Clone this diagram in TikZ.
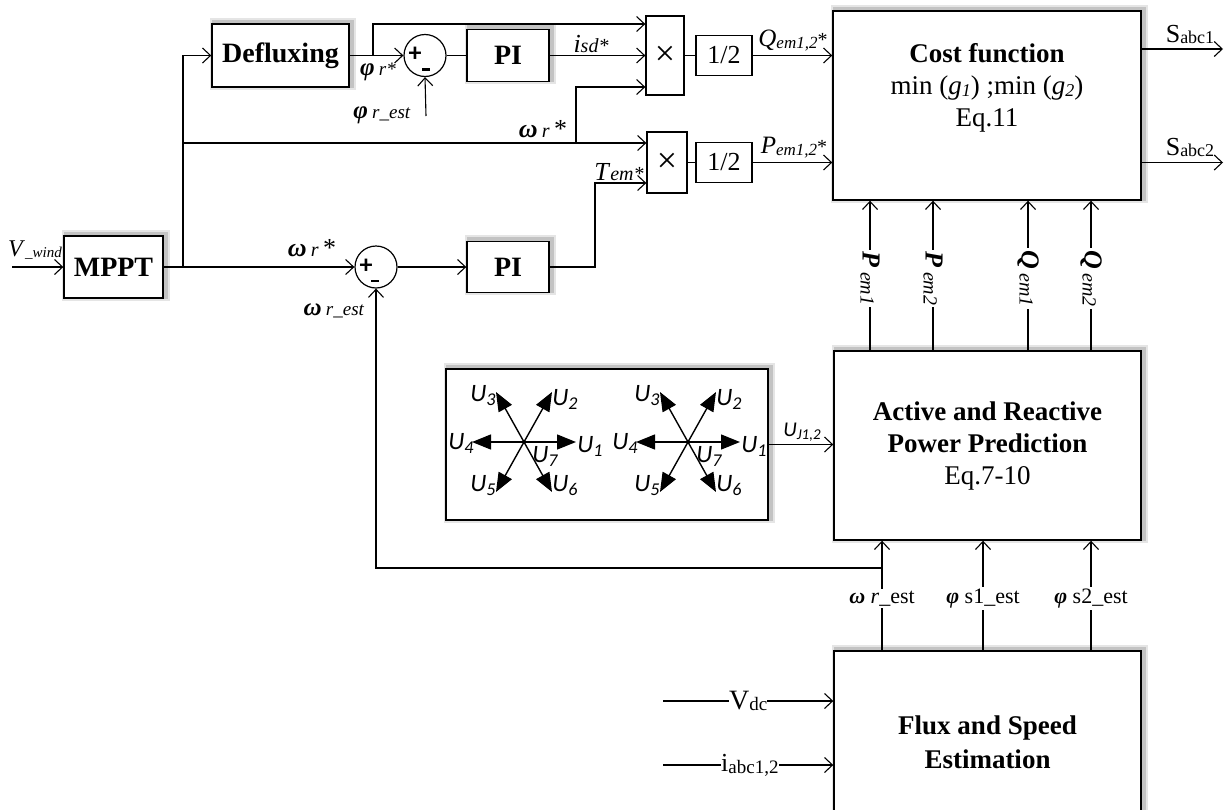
\documentclass[tikz,border=0pt]{standalone}
\usepackage{fontspec}
\setmainfont{Liberation Serif}
\newfontfamily\calib{Carlito}
\usetikzlibrary{arrows.meta,calc}
\newcommand{\om}{\textbf{\textit{ω}}}
\newcommand{\ph}{\textbf{\textit{φ}}}
\newcommand{\fs}[1]{\fontsize{#1}{#1}\selectfont}
\newcommand{\ulab}[1]{{\calib\itshape\fs{25}U\raisebox{-4pt}{\fs{18}#1}}}
\tikzset{
  blk/.style={draw, line width=1.4pt, fill=white, inner sep=0pt, align=center,
    preaction={draw=black, draw opacity=0.10, line width=9pt, transform canvas={xshift=2pt,yshift=2pt}},
    preaction={draw=black, draw opacity=0.15, line width=5pt, transform canvas={xshift=2pt,yshift=2pt}}},
  plainbox/.style={draw, line width=1.3pt, fill=white, inner sep=0pt},
  sumc/.style={draw, circle, line width=1.2pt, minimum size=42pt, inner sep=0pt, fill=white},
  wire/.style={line width=1.1pt},
  arr/.style={wire, -{Straight Barb[length=8pt,width=15pt,line width=1.1pt]}},
  lbl/.style={inner sep=1pt},
  wlbl/.style={fill=white, inner sep=2pt},
  vec/.style={line width=1.4pt, -{Triangle[length=19pt,width=15pt]}},
  ulbl/.style={inner sep=0pt},
  minus/.style={line width=2.2pt},
}
\begin{document}
\begin{tikzpicture}[x=1pt,y=-1pt]
\useasboundingbox (0,0) rectangle (1224,809);

% ---------- blocks ----------
\node[blk, minimum width=137pt, minimum height=63pt, font=\fs{28}\bfseries] (defl) at (280.5,55.5) {Defluxing};
\node[sumc] (sum1) at (425,55.5) {};
\node[blk, minimum width=82pt, minimum height=52pt, font=\fs{28}\bfseries] (pi1) at (508,55.5) {PI};
\node[plainbox, minimum width=38pt, minimum height=79pt, font=\fs{36}] (mult1) at (665,55.5) {×};
\node[plainbox, minimum width=56pt, minimum height=40pt, font=\fs{26}] (half1) at (724,55.5) {1/2};
\node[plainbox, minimum width=40pt, minimum height=61pt, font=\fs{36}] (mult2) at (667,162.5) {×};
\node[plainbox, minimum width=56pt, minimum height=40pt, font=\fs{26}] (half2) at (724,162.5) {1/2};
\node[blk, minimum width=308pt, minimum height=189pt] (cost) at (987,105.5) {};
\node[font=\fontsize{27}{32}\selectfont, align=center] (costtxt) at (987,88)
  {\textbf{Cost function}\\min (\textit{g}\raisebox{-2pt}{\fs{18}\textit{1}}) ;min (\textit{g}\raisebox{-2pt}{\fs{18}\textit{2}})\\Eq.11};
\node[blk, minimum width=99pt, minimum height=62pt, font=\fs{28}\bfseries] (mppt) at (113.5,267) {MPPT};
\node[sumc] (sum2) at (376,267) {};
\node[blk, minimum width=82pt, minimum height=51pt, font=\fs{28}\bfseries] (pi2) at (508,267) {PI};
\node[blk, minimum width=322pt, minimum height=151pt] (vecbox) at (607,444.5) {};
\node[blk, minimum width=307pt, minimum height=189pt, font=\fontsize{27}{32}\selectfont] (act) at (987.5,445.5)
  {\textbf{Active and Reactive}\\\textbf{Power Prediction}\\Eq.7-10};
\node[blk, minimum width=307pt, minimum height=182pt, font=\fontsize{27}{34}\selectfont] (flux) at (987.5,742)
  {\textbf{Flux and Speed}\\\textbf{Estimation}};

% signs in summers
\node[font=\calib\bfseries\fs{26}, inner sep=0pt] (p1s) at ([shift={(-10,-1)}]sum1.center) {+};
\draw[minus] ([shift={(-3,14)}]sum1.center) -- ([shift={(5,14)}]sum1.center);
\node[font=\calib\bfseries\fs{26}, inner sep=0pt] (p2s) at ([shift={(-10,-1)}]sum2.center) {+};
\draw[minus] ([shift={(-5,14)}]sum2.center) -- ([shift={(3,14)}]sum2.center);

% ---------- coordinates ----------
\coordinate (vw) at (12,267);
\coordinate (j1) at (183,267);
\coordinate (j2) at (183,143);
\coordinate (j3) at (576,143);
\coordinate (m1c) at (576,87);
\coordinate (j4) at (373,55.5);
\coordinate (m1a) at (373,24);
\coordinate (phest) at (426,116);
\coordinate (t1) at (595,267);
\coordinate (t2) at (595,183);
\coordinate (s1) at (1223,49);
\coordinate (s2) at (1223,162.5);
\coordinate (px1) at (870,0);
\coordinate (px2) at (933,0);
\coordinate (px3) at (1028,0);
\coordinate (px4) at (1091,0);
\coordinate (qx1) at (882,0);
\coordinate (qx2) at (983,0);
\coordinate (qx3) at (1091,0);
\coordinate (fb1) at (882,568);
\coordinate (fb2) at (376,568);
\coordinate (vd) at (663,701);
\coordinate (ia) at (663,765);

% ---------- connectors ----------
\draw[arr] (vw) -- (mppt.west);
\draw[arr] (mppt.east) -- (sum2.west);
\draw[arr] (j1) |- (defl.west);
\draw[arr] (j2) -- (mult2.west |- j2);
\draw[arr] (j3) -- (m1c) -- (mult1.west |- m1c);
\draw[arr] (defl.east) -- (sum1.west);
\draw[arr] (j4) -- (m1a) -- (mult1.west |- m1a);
\draw[wire] (sum1.east) -- (pi1.west);
\draw[arr] (pi1.east) -- (mult1.west |- pi1.east);
\draw[arr] (phest) -- (sum1.south);
\draw[arr] (sum2.east) -- (pi2.west);
\draw[arr] (pi2.east) -- (t1) -- (t2) -- (mult2.west |- t2);
\draw[wire] (mult1.east) -- (half1.west);
\draw[arr] (half1.east) -- (cost.west |- half1.east);
\draw[wire] (mult2.east) -- (half2.west);
\draw[arr] (half2.east) -- (cost.west |- half2.east);
\draw[arr] (cost.east |- s1) -- (s1);
\draw[arr] (cost.east |- s2) -- (s2);

% P/Q em into cost
\draw[arr] (act.north -| px1) -- (cost.south -| px1)
  node[pos=0.48, rotate=-90, wlbl, font=\fs{26}] (lp1) {\textbf{\textit{P}}\,\raisebox{-2pt}{\fs{20}\textit{em1}}};
\draw[arr] (act.north -| px2) -- (cost.south -| px2)
  node[pos=0.48, rotate=-90, wlbl, font=\fs{26}] (lp2) {\textbf{\textit{P}}\,\raisebox{-2pt}{\fs{20}\textit{em2}}};
\draw[arr] (act.north -| px3) -- (cost.south -| px3)
  node[pos=0.48, rotate=-90, wlbl, font=\fs{26}] (lq1) {\textbf{\textit{Q}}\,\raisebox{-2pt}{\fs{20}\textit{em1}}};
\draw[arr] (act.north -| px4) -- (cost.south -| px4)
  node[pos=0.48, rotate=-90, wlbl, font=\fs{26}] (lq2) {\textbf{\textit{Q}}\,\raisebox{-2pt}{\fs{20}\textit{em2}}};

% estimation outputs
\draw[arr] (flux.north -| qx1) -- (act.south -| qx1)
  node[pos=0.47, wlbl, font=\fs{22}] (le1) {\om\ \textit{r}\_est};
\draw[arr] (flux.north -| qx2) -- (act.south -| qx2)
  node[pos=0.47, wlbl, font=\fs{22}] (le2) {\ph\ s1\_est};
\draw[arr] (flux.north -| qx3) -- (act.south -| qx3)
  node[pos=0.47, wlbl, font=\fs{22}] (le3) {\ph\ s2\_est};
\draw[arr] (fb1) -- (fb2) -- (sum2.south);

\draw[arr] (vecbox.east) -- (act.west |- vecbox.east);
\draw[arr] (vd) -- (flux.west |- vd) node[pos=0.5, wlbl, inner sep=0pt, font=\fs{28}] (lvd) {V\raisebox{-1pt}{\fs{19}dc}};
\draw[arr] (ia) -- (flux.west |- ia) node[pos=0.51, wlbl, inner sep=0pt, font=\fs{26}] (lia) {i\raisebox{-2pt}{\fs{19}abc1,2}};

% ---------- labels ----------
\node[lbl, font=\fs{24}] (lvw) at (35,250) {\textit{V}\raisebox{-1pt}{\fs{15}\textit{\_wind}}};
\node[lbl, font=\fs{26}] (lwr1) at (312,248) {\om\,{\fs{20}\textit{r}}\,{\fs{26}*}};
\node[lbl, font=\fs{26}] (lwr2) at (543,129) {\om\,{\fs{20}\textit{r}}\,{\fs{26}*}};
\node[lbl, font=\fs{25}] (lphr) at (378,72) {\ph\,{\fs{19}\textit{r*}}};
\node[lbl, font=\fs{25}] (lphe) at (382,115) {\ph\,{\fs{19}\textit{r\_est}}};
\node[lbl, font=\fs{25}] (lwre) at (334,311) {\om\,{\fs{19}\textit{r\_est}}};
\node[lbl, font=\fs{26}] (lisd) at (591,44) {\textit{i}{\fs{20}\textit{sd*}}};
\node[lbl, font=\fs{26}] (ltem) at (619,172) {\textit{T}{\fs{20}\textit{em*}}};
\node[lbl, font=\fs{25}] (lq) at (793,41) {\textit{Q}\raisebox{-2pt}{\fs{17}\textit{em1,2}}{\fs{20}*}};
\node[lbl, font=\fs{25}] (lpm) at (794,148) {\textit{P}\raisebox{-2pt}{\fs{17}\textit{em1,2}}{\fs{20}*}};
\node[lbl, font=\fs{26}] (ls1) at (1190,34) {S\raisebox{-1pt}{\fs{18}abc1}};
\node[lbl, font=\fs{26}] (ls2) at (1190,147) {S\raisebox{-1pt}{\fs{18}abc2}};
\node[lbl] (luj) at (802,432) {{\calib\itshape\fs{21}U\raisebox{-3pt}{\fs{15}J1,2}}};

% ---------- voltage vector stars ----------
\foreach \cx in {524,688}{
  \begin{scope}[shift={(\cx,442)}]
    \draw[vec] (0,0) -- (52,0);
    \draw[vec] (0,0) -- (-52,0);
    \draw[vec] (0,0) -- (28,-50);
    \draw[vec] (0,0) -- (-28,-50);
    \draw[vec] (0,0) -- (-28,50);
    \draw[vec] (0,0) -- (28,50);
    \node[ulbl] (ua\cx) at (66,4) {\ulab{1}};
    \node[ulbl] (ub\cx) at (41,-43) {\ulab{2}};
    \node[ulbl] (uc\cx) at (-41,-46) {\ulab{3}};
    \node[ulbl] (ud\cx) at (-63,1) {\ulab{4}};
    \node[ulbl] (ue\cx) at (-41,44) {\ulab{5}};
    \node[ulbl] (uf\cx) at (41,44) {\ulab{6}};
    \node[ulbl] (ug\cx) at (21,14) {\ulab{7}};
  \end{scope}
}
\end{tikzpicture}
\end{document}
